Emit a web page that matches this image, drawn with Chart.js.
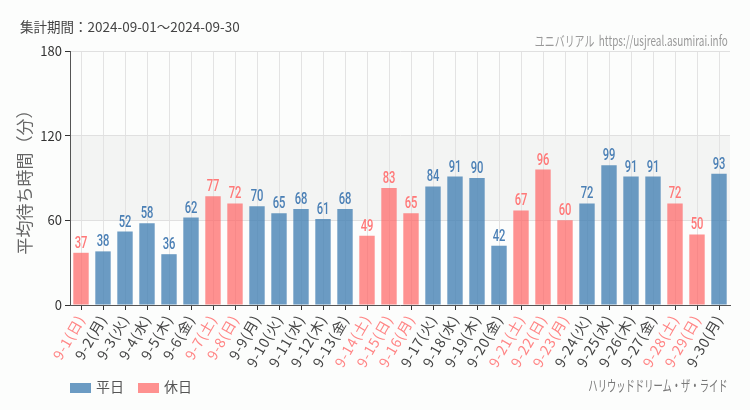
<!DOCTYPE html>
<html lang="ja">
<head>
<meta charset="utf-8">
<script src="https://cdn.jsdelivr.net/npm/chart.js@4"></script>
<style>
  html, body { margin: 0; padding: 0; background: #fcfdfc; }
  #wrap { position: relative; width: 750px; height: 410px; font-family: "Noto Sans CJK JP", "Noto Sans", sans-serif; }
  canvas { position: absolute; left: 0; top: 0; }
  .txt { position: absolute; white-space: nowrap; }
  #period { left: 20px; top: 16px; font-size: 13.5px; color: #444; }
  #site { right: 22px; top: 30px; font-size: 14px; color: #999; transform: scaleX(0.71); transform-origin: right center; }
  #ride { right: 22px; top: 374px; font-size: 15px; color: #777; transform: scaleX(0.62); transform-origin: right center; }
  #legend { left: 70px; top: 376px; font-size: 14px; color: #555; }
  #legend span.box { display: inline-block; width: 21px; height: 10px; vertical-align: -1px; margin-right: 5px; }
  #legend span.item { margin-right: 14px; }
</style>
</head>
<body>
<div id="wrap">
  <canvas id="c" width="750" height="410"></canvas>
  <div class="txt" id="period">集計期間：2024-09-01～2024-09-30</div>
  <div class="txt" id="site">ユニバリアル&nbsp;&nbsp;https://usjreal.asumirai.info</div>
  <div class="txt" id="legend"><span class="item"><span class="box" style="background:rgba(70,130,180,0.8)"></span>平日</span><span class="item"><span class="box" style="background:rgba(255,99,99,0.7)"></span>休日</span></div>
  <div class="txt" id="ride">ハリウッドドリーム・ザ・ライド</div>
</div>
<script>
  // 9月の日付と曜日
  const days = ["9-1(日)", "9-2(月)", "9-3(火)", "9-4(水)", "9-5(木)", "9-6(金)", "9-7(土)", "9-8(日)",
    "9-9(月)", "9-10(火)", "9-11(水)", "9-12(木)", "9-13(金)", "9-14(土)", "9-15(日)", "9-16(月)",
    "9-17(火)", "9-18(水)", "9-19(木)", "9-20(金)", "9-21(土)", "9-22(日)", "9-23(月)", "9-24(火)",
    "9-25(水)", "9-26(木)", "9-27(金)", "9-28(土)", "9-29(日)", "9-30(月)"];
  const waits = [37, 38, 52, 58, 36, 62, 77, 72, 70, 65, 68, 61, 68, 49, 83, 65,
    84, 91, 90, 42, 67, 96, 60, 72, 99, 91, 91, 72, 50, 93];
  const holidays = [1, 0, 0, 0, 0, 0, 1, 1, 0, 0, 0, 0, 0, 1, 1, 1,
    0, 0, 0, 0, 1, 1, 1, 0, 0, 0, 0, 1, 1, 0];
  const yTicks = [0, 60, 120, 180];

  const weekdayData = waits.map(function (v, i) { return holidays[i] ? null : v; });
  const holidayData = waits.map(function (v, i) { return holidays[i] ? v : null; });

  const BLUE = "rgba(70,130,180,0.8)";
  const RED = "rgba(255,99,99,0.7)";
  const JP = "'Noto Sans CJK JP', 'Noto Sans', sans-serif";

  const bandPlugin = {
    id: "band",
    beforeDraw: function (chart) {
      var ctx = chart.ctx, a = chart.chartArea, y = chart.scales.y;
      ctx.save();
      ctx.fillStyle = "#f3f4f3";
      var top = y.getPixelForValue(120), bot = y.getPixelForValue(60);
      ctx.fillRect(a.left, top, a.right - a.left, bot - top);
      ctx.restore();

      // x軸ラベルだけ字間を少し広げる
      var xs = chart.scales.x;
      if (!xs._spaced) {
        var orig = xs.drawLabels;
        xs.drawLabels = function (area) {
          var c = this.ctx;
          c.save();
          c.letterSpacing = "0.8px";
          orig.call(this, area);
          c.restore();
        };
        xs._spaced = true;
      }
    }
  };

  // 数値ラベル(細めの字形は横方向に縮めて描く)
  const valuePlugin = {
    id: "values",
    afterDatasetsDraw: function (chart) {
      var ctx = chart.ctx;
      chart.data.datasets.forEach(function (ds, di) {
        chart.getDatasetMeta(di).data.forEach(function (bar, i) {
          if (ds.data[i] == null) return;
          ctx.save();
          ctx.font = "500 16px 'Roboto', sans-serif";
          ctx.textAlign = "center";
          ctx.textBaseline = "bottom";
          ctx.fillStyle = di === 0 ? "#4a7fb5" : "#ff7878";
          ctx.translate(bar.x, bar.y - 1);
          ctx.scale(0.7, 1);
          ctx.fillText(String(ds.data[i]), 0, 0);
          ctx.restore();
        });
      });
    }
  };

  new Chart(document.getElementById("c"), {
    type: "bar",
    data: {
      labels: days,
      datasets: [
        { label: "平日", data: weekdayData, backgroundColor: BLUE, barPercentage: 0.7, categoryPercentage: 1 },
        { label: "休日", data: holidayData, backgroundColor: RED, barPercentage: 0.7, categoryPercentage: 1 }
      ]
    },
    options: {
      responsive: false,
      animation: false,
      layout: { padding: { top: 51, right: 20, left: 0, bottom: 0 } },
      plugins: { legend: { display: false }, tooltip: { enabled: false } },
      scales: {
        x: {
          stacked: true,
          afterFit: function (s) { s.height = 105; },
          grid: { offset: false, color: "#e3e3e3", tickColor: "#333", tickLength: 5 },
          border: { color: "#555" },
          ticks: {
            autoSkip: false, maxRotation: 60, minRotation: 60, padding: 2,
            font: { size: 14, family: JP },
            color: function (c) { return holidays[c.index] ? "#ff8585" : "#444"; }
          }
        },
        y: {
          stacked: true,
          min: 0, max: 180,
          afterFit: function (s) { s.width = 70; },
          afterBuildTicks: function (s) { s.ticks = yTicks.map(function (v) { return { value: v }; }); },
          grid: { color: "#e0e0e0", tickColor: "#333", tickLength: 5 },
          border: { color: "#555" },
          ticks: { padding: 3, font: { size: 13, family: JP }, color: "#333" },
          title: { display: true, text: "平均待ち時間（分）", color: "#666", font: { size: 17, family: JP }, padding: { top: 14, bottom: 0 } }
        }
      }
    },
    plugins: [bandPlugin, valuePlugin]
  });
</script>
</body>
</html>
